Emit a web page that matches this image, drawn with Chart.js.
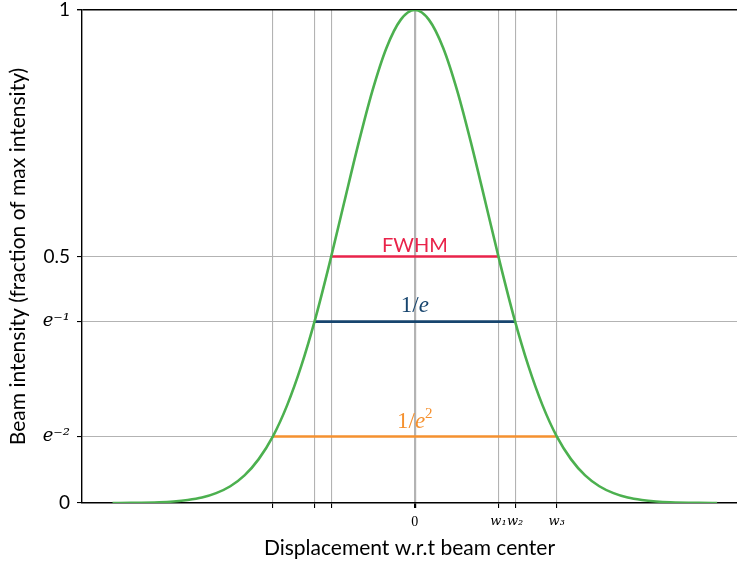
<!DOCTYPE html>
<html><head><meta charset="utf-8">
<script src="https://cdn.jsdelivr.net/npm/chart.js@4/dist/chart.umd.min.js"></script>
<style>html,body{margin:0;padding:0;background:#fff}</style>
</head><body>
<canvas id="c" width="737" height="566"></canvas>
<script>
// ---- data (x in units of w3, intensity as fraction of max) ----
const profileX = [-2.13, -2.0, -1.8, -1.7, -1.6, -1.5, -1.4, -1.3, -1.2, -1.1, -1.0, -0.9, -0.8, -0.7, -0.6, -0.5, -0.4, -0.3, -0.2, -0.1, 0,
                  0.1, 0.2, 0.3, 0.4, 0.5, 0.6, 0.7, 0.8, 0.9, 1.0, 1.1, 1.2, 1.3, 1.4, 1.5, 1.6, 1.7, 1.8, 2.0, 2.13];
const profileY = [0.0001, 0.0003, 0.0015, 0.0031, 0.006, 0.011, 0.020, 0.034, 0.056, 0.089, 0.135, 0.198, 0.278, 0.375, 0.487, 0.607, 0.726, 0.835, 0.923, 0.980, 1.0,
                  0.980, 0.923, 0.835, 0.726, 0.607, 0.487, 0.375, 0.278, 0.198, 0.135, 0.089, 0.056, 0.034, 0.020, 0.011, 0.006, 0.0031, 0.0015, 0.0003, 0.0001];
const xTickValues = [-1, -0.707, -0.589, 0, 0.589, 0.707, 1];
const xTickLabels = ['', '', '', '0', 'w₁', 'w₂', 'w₃'];
const yTickValues = [0, 0.135, 0.368, 0.5, 1];
const yTickLabels = ['0', 'e⁻²', 'e⁻¹', '0.5', '1'];
const levelNames = ['FWHM', '1/e', '1/e²'];
const levelY = [0.5, 0.368, 0.135];
const levelHalfWidth = [0.589, 0.707, 1];

// ---- styles ----
const levelColors = ['#e9234a', '#17456e', '#f5912f'];
const curveColor = '#4cb04f';
const gridColor = '#b3b3b3';
const SANS = 'Lato';
const SERIF = 'Liberation Serif';
const MATH = 'DejaVu Serif';
const labelParts = [
  [{t: 'FWHM', font: '20px ' + SANS, dy: 0}],
  [{t: '1/', font: '23px ' + SERIF, dy: 0}, {t: 'e', font: 'italic 23px ' + SERIF, dy: 0}],
  [{t: '1/', font: '23px ' + SERIF, dy: 0}, {t: 'e', font: 'italic 23px ' + SERIF, dy: 0}, {t: '2', font: '15px ' + SERIF, dy: -10}]
];
const labelLift = [5, 10, 8];

const datasets = [{
  data: profileX.map((x, i) => ({x: x, y: profileY[i]})),
  borderColor: curveColor, borderWidth: 2.6, pointRadius: 0, showLine: true,
  cubicInterpolationMode: 'monotone', fill: false
}];
levelNames.forEach((n, i) => {
  datasets.push({
    data: [{x: -levelHalfWidth[i], y: levelY[i]}, {x: levelHalfWidth[i], y: levelY[i]}],
    borderColor: levelColors[i], borderWidth: 2.6, pointRadius: 0, showLine: true, fill: false
  });
});

const labelPlugin = {
  id: 'levelLabels',
  afterDatasetsDraw(chart) {
    const ctx = chart.ctx, xs = chart.scales.x, ys = chart.scales.y;
    ctx.save();
    ctx.textBaseline = 'alphabetic';
    ctx.textAlign = 'left';
    levelNames.forEach((n, i) => {
      const parts = labelParts[i];
      let w = 0;
      parts.forEach(p => { ctx.font = p.font; w += ctx.measureText(p.t).width; });
      let x = xs.getPixelForValue(0) - w / 2;
      const y = ys.getPixelForValue(levelY[i]) - labelLift[i];
      ctx.fillStyle = levelColors[i];
      parts.forEach(p => { ctx.font = p.font; ctx.fillText(p.t, x, y + p.dy); x += ctx.measureText(p.t).width; });
    });
    ctx.restore();
  }
};

new Chart(document.getElementById('c'), {
  type: 'scatter',
  data: {datasets: datasets},
  plugins: [labelPlugin],
  options: {
    responsive: false, animation: false, devicePixelRatio: 1,
    layout: {padding: {top: 0, right: 0, left: 0, bottom: 0}},
    plugins: {legend: {display: false}, tooltip: {enabled: false}},
    scales: {
      x: {
        type: 'linear', min: -2.345, max: 2.27,
        afterBuildTicks: s => { s.ticks = xTickValues.map(v => ({value: v})); },
        afterFit: s => { s.height = 63; s.paddingLeft = 0; s.paddingRight = 0; },
        ticks: {
          autoSkip: false, maxRotation: 0, padding: 6, color: '#000',
          callback: (v, i) => xTickLabels[i],
          font: ctx => (ctx.tick && ctx.tick.value === 0) ? {family: SERIF, size: 14} : {family: MATH, size: 13, style: 'italic'}
        },
        grid: {
          color: gridColor, tickColor: '#000', tickLength: 5,
          lineWidth: ctx => (ctx.tick && ctx.tick.value === 0) ? 2.2 : 1.1
        },
        border: {color: '#000', width: 1.4},
        title: {display: true, text: 'Displacement w.r.t beam center', color: '#000',
                font: {family: SANS, size: 21}, padding: {top: 0, bottom: 5}}
      },
      y: {
        type: 'linear', min: 0, max: 1,
        afterBuildTicks: s => { s.ticks = yTickValues.map(v => ({value: v})); },
        afterFit: s => { s.width = 82; s.paddingTop = 10; s.paddingBottom = 0; },
        ticks: {
          autoSkip: false, padding: 7, color: '#000',
          callback: (v, i) => yTickLabels[i],
          font: ctx => (ctx.tick && (ctx.tick.value === 0.135 || ctx.tick.value === 0.368)) ? {family: MATH, size: 18, style: 'italic'} : {family: SANS, size: 19}
        },
        grid: {
          color: ctx => (ctx.tick && ctx.tick.value === 1) ? '#000' : gridColor,
          lineWidth: ctx => (ctx.tick && ctx.tick.value === 1) ? 1.4 : 1.1,
          tickColor: '#000', tickLength: 5
        },
        border: {color: '#000', width: 1.4},
        title: {display: true, text: 'Beam intensity (fraction of max intensity)', color: '#000',
                font: {family: SANS, size: 21}, padding: {top: 6, bottom: 0}}
      }
    }
  }
});
</script>
</body></html>
